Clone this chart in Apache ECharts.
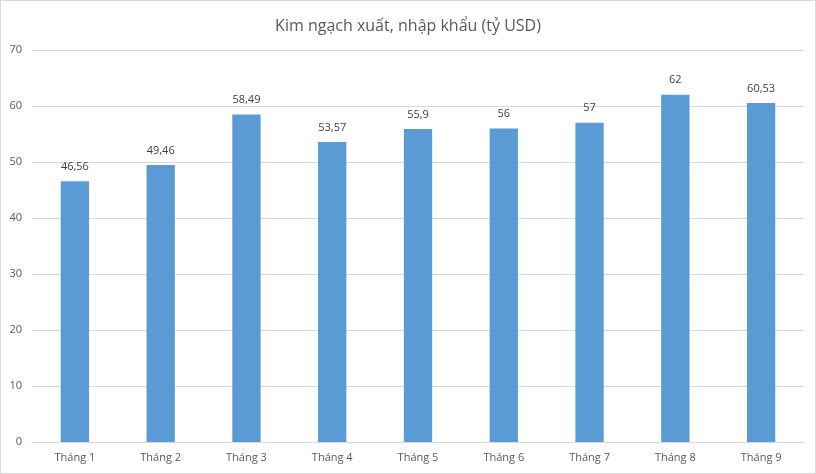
<!DOCTYPE html>
<html><head><meta charset="utf-8">
<script src="https://cdn.jsdelivr.net/npm/echarts@6/dist/echarts.min.js"></script>
<style>html,body{margin:0;padding:0;background:#fff}#c{width:816px;height:474px;box-sizing:border-box;border:1px solid #d9d9d9}</style>
</head><body><div id="c"></div>
<script>
const categories = ['Tháng 1','Tháng 2','Tháng 3','Tháng 4','Tháng 5','Tháng 6','Tháng 7','Tháng 8','Tháng 9'];
const values = [46.56, 49.46, 58.49, 53.57, 55.9, 56, 57, 62, 60.53];
const titleText = 'Kim ngạch xuất, nhập khẩu (tỷ USD)';
const chart = echarts.init(document.getElementById('c'));
const font = 'Open Sans';
chart.setOption({
  animation: false,
  title: { text: titleText, left: 'center', top: 12, textStyle: { fontFamily: font, fontSize: 16, fontWeight: 'normal', color: '#595959' } },
  grid: { left: 31, right: 11, top: 49, bottom: 31 },
  xAxis: { type: 'category', data: categories, axisTick: { show: false },
    axisLine: { lineStyle: { color: '#d9d9d9' } },
    axisLabel: { fontFamily: font, fontSize: 11, color: '#595959', margin: 10 } },
  yAxis: { type: 'value', min: 0, max: 70, interval: 10,
    axisLine: { show: false }, axisTick: { show: false },
    splitLine: { lineStyle: { color: '#d9d9d9' } },
    axisLabel: { fontFamily: font, fontSize: 11, color: '#595959', margin: 10 } },
  series: [{ type: 'bar', data: values, barWidth: '33%', itemStyle: { color: '#5b9bd5' },
    label: { show: true, position: 'top', distance: 9, fontFamily: font, fontSize: 11, color: '#404040',
      formatter: p => String(p.value).replace('.', ',') } }]
});
</script></body></html>
